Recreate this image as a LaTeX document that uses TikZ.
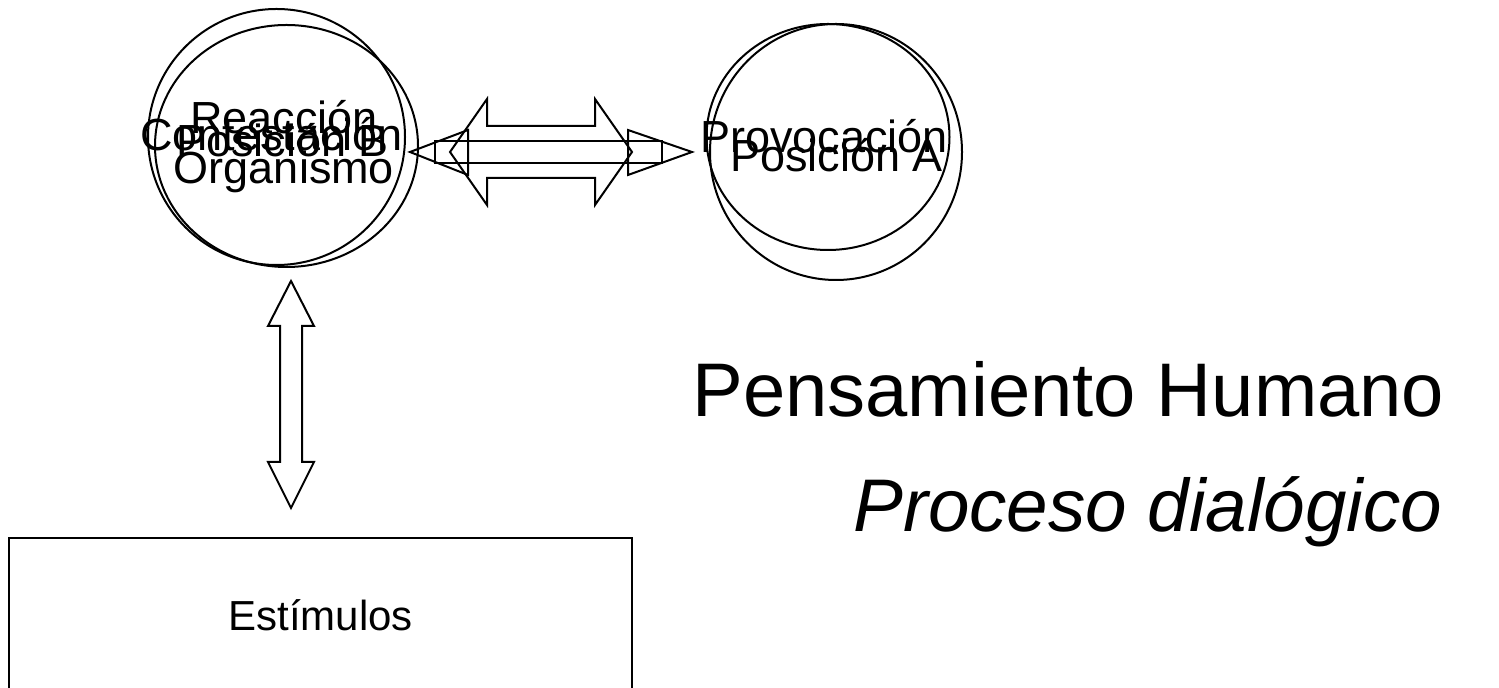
\documentclass[tikz,border=0pt]{standalone}
\usepackage{fontspec}
\setmainfont{Liberation Sans}
\usetikzlibrary{shapes.geometric,calc}

\begin{document}
\begin{tikzpicture}[x=0.5pt,y=-0.5pt,
    bubble/.style={draw, ellipse, inner sep=0pt, line width=1pt},
    tag/.style={font=\fontsize{22.5}{25}\selectfont, inner sep=0pt, anchor=base},
    blockarrow/.style={draw, line width=1pt, line join=miter}]
      \useasboundingbox (0,0) rectangle (1499,688);
      \clip (0,0) rectangle (1499,688);

      % the two sides of the dialogue
      \node [bubble, minimum width=128.5pt, minimum height=128pt] (contest) at (276.5,137) {};
      \node [bubble, minimum width=131.5pt, minimum height=121pt] (organism) at (286.5,146) {};
      \node [bubble, minimum width=121.5pt, minimum height=113pt] (provoc) at (828,137) {};
      \node [bubble, minimum width=126pt, minimum height=128pt] (posA) at (836,152) {};

      \node [tag] (contestTxt) at (271.5,151) {Contestación};
      \node [tag] (organismTxt) at (284,134)
        {\begin{tabular}[t]{@{}c@{}}Reacción\\Organismo\end{tabular}};
      \node [tag] (posBTxt) at (282.5,157) {Posición B};
      \node [tag] (provocTxt) at (824,153) {Provocación};
      \node [tag] (posATxt) at (836.5,172) {Posición A};

      \node [draw, line width=1pt, minimum width=311.5pt, minimum height=77pt,
             font=\fontsize{21}{25}\selectfont] (stim) at (320.5,615) {Estímulos};

      \node [anchor=base west, inner sep=0pt, font=\fontsize{38}{46}\selectfont] (title) at (692,417) {Pensamiento Humano};
      \node [anchor=base west, inner sep=0pt, font=\fontsize{37.3}{45}\selectfont\itshape] (subtitle) at (853,532) {Proceso dialógico};

      % arrow ends
      \coordinate (thinL) at (410,152);
      \coordinate (thinR) at (692,152);
      \coordinate (bigL) at (450,152);
      \coordinate (vertT) at (291,281);

      % thin double arrow
      \draw [blockarrow] (thinL) -- ++(58,-22) -- ++(0,45) -- cycle;
      \draw [blockarrow] (thinR) -- ++(-64,-22) -- ++(0,45) -- cycle;
      \draw [blockarrow] ($(thinL)+(25,-11)$) rectangle ($(thinR)+(-30,11)$);

      % wide double arrow
      \draw [blockarrow] (bigL) -- ++(37,-53) -- ++(0,27) -- ++(108,0) -- ++(0,-27)
        -- ++(37,53) -- ++(-37,53) -- ++(0,-27) -- ++(-108,0) -- ++(0,27) -- cycle;

      % organism <-> stimuli
      \draw [blockarrow] (vertT) -- ++(23,45) -- ++(-12,0) -- ++(0,136) -- ++(12,0)
        -- ++(-23,46) -- ++(-23,-46) -- ++(12,0) -- ++(0,-136) -- ++(-12,0) -- cycle;
\end{tikzpicture}
\end{document}
